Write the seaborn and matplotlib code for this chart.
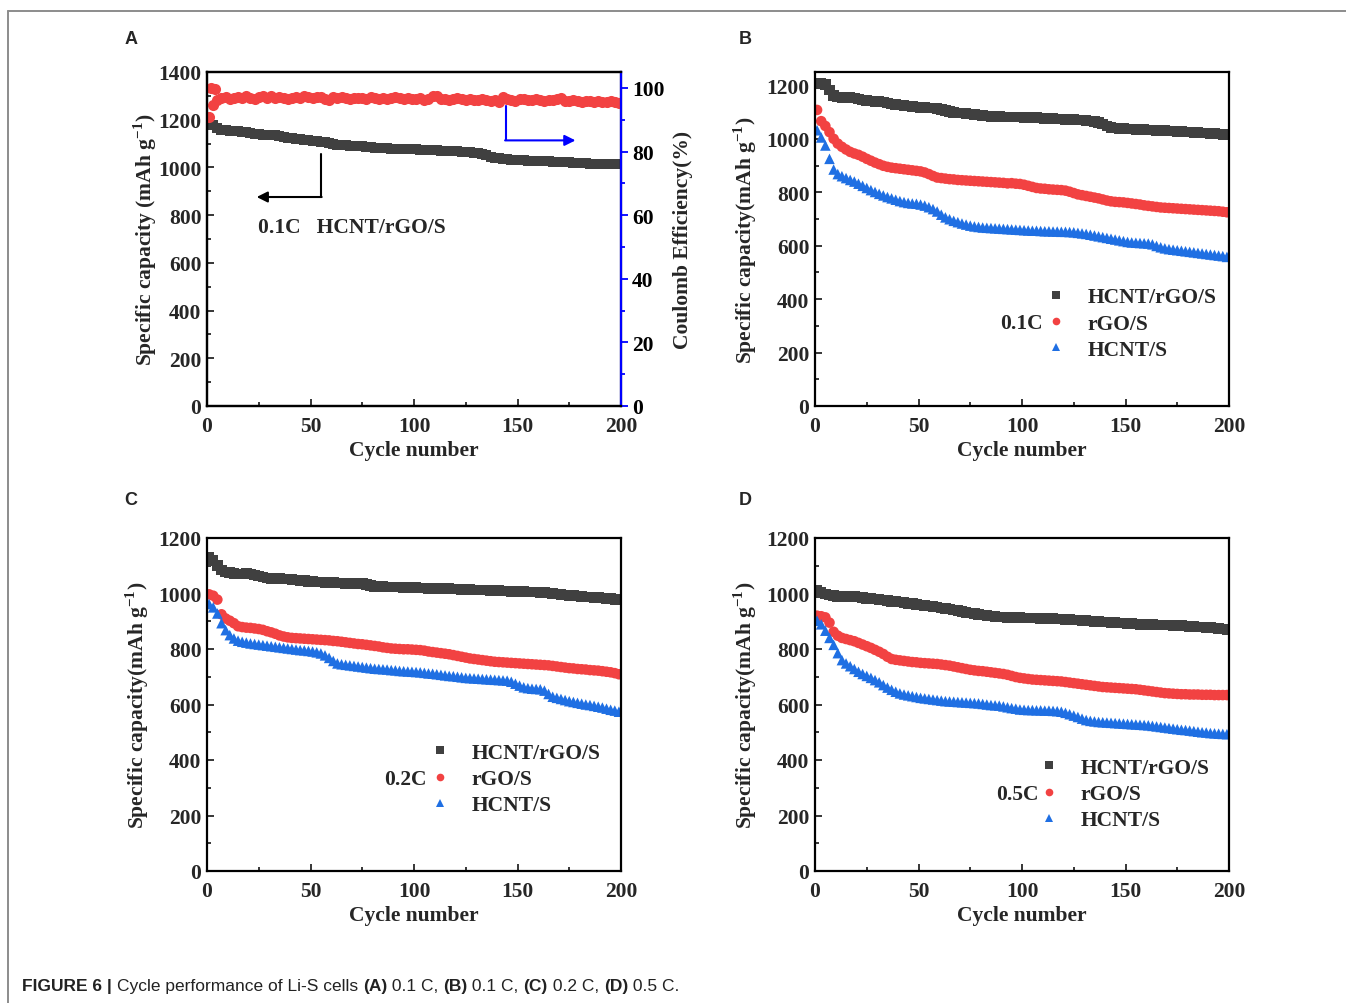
import numpy as np
import pandas as pd
import matplotlib
matplotlib.use("Agg")
import matplotlib.pyplot as plt
from matplotlib.lines import Line2D
from matplotlib.ticker import MultipleLocator
from matplotlib import font_manager
import seaborn as sns

cycles = np.arange(1, 200, 2)
ce_cycles = np.r_[1:5, 5:200:2]

# (A) HCNT/rGO/S at 0.1C, capacity and coulombic efficiency
a_cap = [1188, 1176, 1165, 1158, 1155, 1153, 1152, 1151, 1150, 1148,
         1145, 1142, 1140, 1138, 1137, 1136, 1134, 1131, 1128, 1125,
         1122, 1120, 1118, 1116, 1114, 1112, 1110, 1108, 1105, 1101,
         1098, 1096, 1094, 1092, 1091, 1090, 1089, 1088, 1086, 1084,
         1082, 1081, 1080, 1080, 1079, 1079, 1078, 1078, 1077, 1077,
         1076, 1075, 1074, 1073, 1072, 1071, 1070, 1069, 1068, 1068,
         1067, 1066, 1066, 1064, 1062, 1060, 1057, 1052, 1045, 1040,
         1038, 1036, 1034, 1033, 1032, 1031, 1030, 1029, 1028, 1027,
         1026, 1026, 1025, 1024, 1023, 1022, 1022, 1021, 1020, 1019,
         1018, 1017, 1016, 1015, 1015, 1014, 1014, 1013, 1013, 1013]
a_ce = [90.8, 100.0, 94.5, 99.7,
        96.2, 96.9, 97.1, 96.6, 96.8, 97.2, 96.7, 97.6, 96.9, 96.5,
        97.0, 97.4, 96.8, 97.6, 96.9, 97.2, 96.7, 96.4, 96.8, 97.1,
        96.9, 97.3, 97.0, 96.8, 97.2, 97.0, 96.6, 96.2, 97.1, 96.9,
        97.0, 96.8, 96.6, 96.9, 96.7, 96.8, 96.6, 97.0, 96.7, 96.5,
        96.8, 96.6, 96.9, 97.1, 96.7, 96.5, 96.8, 96.6, 96.4, 96.7,
        96.3, 96.6, 97.3, 97.5, 96.4, 96.6, 96.3, 96.5, 96.7, 96.4,
        96.2, 96.5, 96.3, 96.1, 96.4, 96.2, 96.0, 96.3, 95.7, 97.0,
        96.5, 96.2, 96.0, 96.4, 96.6, 96.3, 96.1, 96.4, 96.2, 96.0,
        96.3, 96.1, 96.5, 96.7, 96.0, 95.8, 96.1, 95.9, 95.7, 96.0,
        95.8, 95.6, 95.9, 95.7, 95.5, 95.8, 95.6, 95.4]

# (B) 0.1C
b_hcnt_rgo_s = [1209, 1207, 1204, 1182, 1163, 1157, 1155, 1154, 1154, 1152,
                1149, 1146, 1143, 1141, 1140, 1139, 1137, 1134, 1131, 1128,
                1126, 1124, 1122, 1120, 1119, 1118, 1117, 1116, 1115, 1113,
                1110, 1106, 1102, 1099, 1097, 1096, 1095, 1093, 1091, 1089,
                1087, 1085, 1084, 1083, 1083, 1082, 1082, 1081, 1081, 1081,
                1080, 1080, 1079, 1079, 1078, 1077, 1076, 1075, 1074, 1074,
                1073, 1072, 1072, 1071, 1070, 1068, 1066, 1064, 1061, 1056,
                1048, 1042, 1040, 1039, 1038, 1037, 1036, 1035, 1035, 1034,
                1033, 1033, 1032, 1031, 1030, 1029, 1029, 1028, 1027, 1026,
                1025, 1024, 1023, 1022, 1021, 1020, 1019, 1018, 1017, 1016]
b_rgo_s = [1108, 1066, 1048, 1025, 1000, 982, 970, 960, 951, 945,
           940, 933, 925, 918, 911, 905, 899, 895, 892, 890,
           888, 886, 884, 882, 880, 878, 874, 868, 861, 855,
           853, 851, 849, 848, 846, 845, 844, 843, 842, 841,
           840, 839, 838, 837, 836, 835, 833, 834, 832, 831,
           828, 824, 820, 816, 814, 813, 811, 810, 809, 808,
           806, 802, 797, 792, 789, 786, 783, 780, 777, 773,
           769, 766, 764, 763, 762, 760, 758, 756, 754, 751,
           749, 747, 745, 743, 742, 741, 740, 739, 738, 737,
           736, 735, 734, 733, 732, 731, 730, 729, 727, 725]
b_hcnt_s = [1032, 1005, 975, 925, 885, 868, 860, 853, 846, 840,
            832, 824, 816, 808, 801, 794, 788, 782, 777, 772,
            767, 763, 760, 758, 757, 754, 750, 744, 737, 728,
            716, 706, 699, 693, 688, 683, 679, 675, 672, 670,
            668, 667, 666, 665, 664, 663, 662, 661, 660, 659,
            658, 657, 656, 656, 655, 654, 654, 653, 653, 652,
            652, 651, 650, 648, 646, 644, 641, 638, 635, 632,
            629, 626, 623, 620, 617, 614, 612, 611, 610, 609,
            608, 605, 599, 594, 590, 587, 585, 583, 581, 579,
            577, 575, 573, 571, 569, 567, 565, 563, 561, 558]

# (C) 0.2C
c_hcnt_rgo_s = [1130, 1118, 1100, 1084, 1078, 1075, 1073, 1071, 1071, 1072,
                1070, 1067, 1063, 1059, 1056, 1055, 1054, 1054, 1053, 1052,
                1050, 1049, 1047, 1046, 1044, 1043, 1042, 1041, 1040, 1039,
                1039, 1038, 1038, 1037, 1037, 1036, 1036, 1035, 1033, 1028,
                1026, 1025, 1025, 1024, 1024, 1023, 1023, 1022, 1022, 1021,
                1021, 1020, 1020, 1019, 1019, 1018, 1018, 1017, 1017, 1016,
                1016, 1015, 1015, 1014, 1013, 1013, 1012, 1012, 1011, 1010,
                1010, 1009, 1009, 1008, 1008, 1007, 1007, 1006, 1006, 1005,
                1004, 1003, 1002, 1000, 998, 996, 995, 993, 992, 991,
                990, 988, 987, 986, 985, 984, 982, 981, 979, 977]
c_rgo_s = [997, 992, 978, 925, 910, 902, 893, 882, 879, 877,
           876, 874, 872, 869, 864, 860, 855, 849, 845, 842,
           840, 839, 838, 837, 836, 835, 834, 833, 832, 831,
           829, 828, 826, 824, 822, 820, 818, 817, 815, 813,
           811, 809, 806, 804, 802, 801, 800, 799, 799, 798,
           797, 796, 794, 791, 789, 787, 785, 783, 781, 778,
           775, 772, 769, 766, 764, 762, 760, 758, 756, 754,
           753, 752, 751, 750, 749, 748, 747, 746, 745, 744,
           743, 742, 741, 739, 737, 735, 733, 731, 730, 728,
           727, 726, 724, 723, 722, 720, 718, 716, 713, 709]
c_hcnt_s = [962, 950, 928, 893, 868, 850, 838, 830, 826, 823,
            820, 818, 816, 814, 812, 810, 808, 806, 804, 802,
            800, 798, 796, 795, 793, 791, 788, 784, 777, 768,
            757, 748, 745, 743, 741, 739, 737, 735, 733, 731,
            729, 728, 727, 726, 724, 723, 721, 720, 719, 718,
            717, 716, 714, 712, 711, 709, 707, 705, 703, 702,
            700, 698, 696, 695, 694, 693, 692, 691, 690, 689,
            688, 687, 686, 682, 675, 668, 662, 659, 657, 656,
            655, 650, 638, 628, 624, 620, 616, 612, 609, 606,
            603, 600, 598, 595, 592, 589, 585, 581, 578, 574]

# (D) 0.5C
d_hcnt_rgo_s = [1012, 1004, 998, 995, 992, 990, 989, 990, 991, 989,
                988, 986, 983, 981, 980, 978, 976, 974, 972, 971,
                969, 967, 965, 963, 961, 959, 957, 955, 953, 951,
                948, 946, 944, 941, 938, 935, 932, 929, 927, 925,
                923, 921, 919, 917, 916, 915, 914, 914, 913, 913,
                912, 912, 911, 911, 910, 910, 909, 909, 908, 908,
                907, 906, 905, 904, 903, 902, 901, 900, 899, 898,
                897, 896, 895, 894, 893, 892, 891, 890, 889, 889,
                888, 888, 887, 887, 886, 886, 885, 885, 884, 883,
                882, 881, 880, 879, 878, 877, 876, 874, 872, 870]
d_rgo_s = [920, 918, 914, 895, 862, 848, 840, 836, 832, 828,
           822, 816, 810, 804, 797, 790, 782, 772, 764, 761,
           759, 757, 755, 753, 752, 750, 749, 748, 747, 746,
           744, 742, 740, 737, 734, 731, 728, 725, 723, 721,
           720, 718, 716, 714, 712, 710, 707, 703, 699, 696,
           694, 692, 690, 689, 688, 687, 686, 685, 684, 683,
           681, 679, 677, 675, 673, 671, 669, 667, 665, 663,
           662, 661, 660, 659, 658, 657, 656, 655, 653, 651,
           649, 647, 645, 643, 641, 640, 639, 638, 637, 637,
           636, 636, 636, 635, 635, 635, 634, 634, 634, 634]
d_hcnt_s = [902, 889, 866, 840, 815, 785, 760, 748, 738, 728,
            718, 710, 703, 696, 688, 680, 670, 661, 653, 646,
            640, 636, 633, 630, 627, 624, 622, 620, 618, 616,
            614, 612, 611, 610, 609, 608, 607, 606, 605, 604,
            602, 600, 598, 597, 596, 593, 590, 587, 585, 582,
            581, 580, 580, 579, 579, 578, 578, 577, 576, 574,
            570, 565, 560, 555, 549, 544, 541, 539, 537, 536,
            535, 534, 533, 532, 531, 530, 529, 528, 527, 526,
            525, 523, 521, 519, 517, 515, 513, 511, 509, 508,
            506, 504, 502, 500, 499, 497, 496, 495, 494, 493]

samples = ["HCNT/rGO/S", "rGO/S", "HCNT/S"]
colors = {"HCNT/rGO/S": "#404040", "rGO/S": "#f24242", "HCNT/S": "#1f6fe3"}
markers = {"HCNT/rGO/S": "s", "rGO/S": "o", "HCNT/S": "^"}

sns.set_style("ticks")
plt.rcParams["font.family"] = ["Liberation Serif", "DejaVu Serif"]
plt.rcParams["font.weight"] = "bold"
plt.rcParams["axes.labelweight"] = "bold"
plt.rcParams["mathtext.fontset"] = "custom"
plt.rcParams["mathtext.rm"] = "Liberation Serif:bold"
plt.rcParams["mathtext.bf"] = "Liberation Serif:bold"

W, H = 1346, 1004
fig = plt.figure(figsize=(W / 100, H / 100), dpi=100)
FS = 15.5
MS = 58


def px_axes(x0, y0, x1, y1):
    return fig.add_axes([x0 / W, 1 - y1 / H, (x1 - x0) / W, (y1 - y0) / H])


def long_df(series):
    frames = [pd.DataFrame({"cycle": cycles, "capacity": vals, "sample": name})
              for name, vals in zip(samples, series)]
    return pd.concat(frames, ignore_index=True)


def style_axes(ax, ymax, ystep, ylabel, labelpad):
    ax.set_xlim(0, 200)
    ax.set_ylim(0, ymax)
    ax.xaxis.set_major_locator(MultipleLocator(50))
    ax.xaxis.set_minor_locator(MultipleLocator(25))
    ax.yaxis.set_major_locator(MultipleLocator(ystep))
    ax.yaxis.set_minor_locator(MultipleLocator(ystep / 2))
    ax.tick_params(which="both", direction="in", top=False, right=False,
                   labelsize=15.5, width=1.3)
    ax.tick_params(axis="y", pad=4)
    ax.tick_params(axis="x", pad=7)
    ax.tick_params(which="major", length=5)
    ax.tick_params(which="minor", length=3)
    for sp in ax.spines.values():
        sp.set_visible(True)
        sp.set_linewidth(1.6)
        sp.set_color("black")
    ax.set_xlabel("Cycle number", fontsize=FS, labelpad=3)
    ax.set_ylabel(ylabel, fontsize=FS, labelpad=labelpad)


def add_legend(ax, rate, mx, ymid, rate_x):
    handles = [Line2D([], [], ls="none", marker=markers[s], color=colors[s],
                      markersize=5.5, markeredgewidth=0) for s in samples]
    hl = 1.0
    x0 = mx - (hl * FS * 100 / 72 / 2) / (ax.bbox.width)
    ax.legend(handles, samples, loc="center left", bbox_to_anchor=(x0, ymid),
              frameon=False, handlelength=hl, handletextpad=0.95,
              labelspacing=0.28, borderpad=0, borderaxespad=0,
              prop=dict(size=FS, weight="bold"))
    ax.text(rate_x, ymid, rate, transform=ax.transAxes, ha="right", va="center",
            fontsize=FS)


ylab_a = r"Specific capacity (mAh g$^{\mathbf{-1}}$)"
ylab = r"Specific capacity(mAh g$^{\mathbf{-1}}$)"

# ---- A ----
axA = px_axes(207, 73, 621, 407)
sns.scatterplot(x=cycles, y=a_cap, color=colors["HCNT/rGO/S"], marker="s",
                s=MS, linewidth=0, ax=axA)
style_axes(axA, 1400, 200, ylab_a, -1)
axA2 = axA.twinx()
sns.scatterplot(x=ce_cycles, y=a_ce, color=colors["rGO/S"], marker="o",
                s=MS + 6, linewidth=0, ax=axA2)
axA2.set_ylim(0, 105)
axA2.yaxis.set_major_locator(MultipleLocator(20))
axA2.yaxis.set_minor_locator(MultipleLocator(10))
axA2.tick_params(axis="y", which="both", direction="out", colors="blue",
                 labelcolor="black", labelsize=15.5, width=1.3, pad=3)
axA2.tick_params(axis="y", which="major", length=5)
axA2.tick_params(axis="y", which="minor", length=3)
for name, sp in axA2.spines.items():
    sp.set_linewidth(1.6)
    sp.set_color("blue" if name == "right" else "black")
axA2.set_ylabel("Coulomb Efficiency(%)", fontsize=FS, labelpad=6)

axA.text(24.6, 752, "0.1C   HCNT/rGO/S", fontsize=FS, va="center")
axA.plot([55, 55], [1056, 876], color="black", lw=1.5)
axA.annotate("", xy=(24, 876), xytext=(55.4, 876),
             arrowprops=dict(arrowstyle="-|>", color="black", lw=1.5,
                             mutation_scale=16, shrinkA=0, shrinkB=0))
axA2.plot([144.4, 144.4], [94.2, 83.5], color="blue", lw=1.5)
axA2.annotate("", xy=(178, 83.5), xytext=(144, 83.5),
              arrowprops=dict(arrowstyle="-|>", color="blue", lw=1.5,
                              mutation_scale=16, shrinkA=0, shrinkB=0))

# ---- B, C, D ----
panels = [
    ((815, 73, 1229, 407), [b_hcnt_rgo_s, b_rgo_s, b_hcnt_s], 1250, "0.1C",
     (1056, 324.5, 1043), 5),
    ((207, 539, 621, 872), [c_hcnt_rgo_s, c_rgo_s, c_hcnt_s], 1200, "0.2C",
     (440, 780, 427), 5),
    ((815, 539, 1229, 872), [d_hcnt_rgo_s, d_rgo_s, d_hcnt_s], 1200, "0.5C",
     (1049, 795, 1039), 5),
]
for box, series, ymax, rate, (mxp, myp, rxp), lp in panels:
    ax = px_axes(*box)
    df = long_df(series)
    sns.scatterplot(data=df, x="cycle", y="capacity", hue="sample", style="sample",
                    hue_order=samples, style_order=samples, palette=colors,
                    markers=markers, s=MS, linewidth=0, legend=False, ax=ax)
    style_axes(ax, ymax, 200, ylab, lp)
    x0, y0, x1, y1 = box
    add_legend(ax, rate, (mxp - x0) / (x1 - x0), (y1 - myp) / (y1 - y0),
               (rxp - x0) / (x1 - x0))

# panel letters
for letter, (lx, ly) in zip("ABCD", [(131, 40), (745, 40), (131, 501), (745, 501)]):
    fig.text(lx / W, 1 - ly / H, letter, ha="center", va="center", fontsize=13,
             fontweight="bold", family=["Liberation Sans", "DejaVu Sans"])

# page frame
fig.add_artist(Line2D([8 / W, 1], [1 - 12 / H, 1 - 12 / H], transform=fig.transFigure,
                      color="#8c8c8c", lw=1.4))
fig.add_artist(Line2D([8 / W, 8 / W], [0, 1 - 12 / H], transform=fig.transFigure,
                      color="#8c8c8c", lw=1.4))

# caption
names = {f.name for f in font_manager.fontManager.ttflist}
cap_font = "Liberation Sans Narrow" if "Liberation Sans Narrow" in names else "Liberation Sans"
cap_size = 14 if cap_font == "Liberation Sans Narrow" else 12.5
pieces = [("FIGURE 6 | ", True), ("Cycle performance of Li-S cells ", False),
          ("(A)", True), (" 0.1 C, ", False), ("(B)", True), (" 0.1 C, ", False),
          ("(C)", True), (" 0.2 C, ", False), ("(D)", True), (" 0.5 C.", False)]
fig.canvas.draw()
renderer = fig.canvas.get_renderer()
xpos = 22
for txt, bold in pieces:
    t = fig.text(xpos / W, 1 - 987 / H, txt, fontsize=cap_size, va="center",
                 fontweight="bold" if bold else "normal", family=[cap_font, "DejaVu Sans"],
                 color="#222222")
    xpos = t.get_window_extent(renderer=renderer).x1

fig.savefig("out.png", dpi=100)
